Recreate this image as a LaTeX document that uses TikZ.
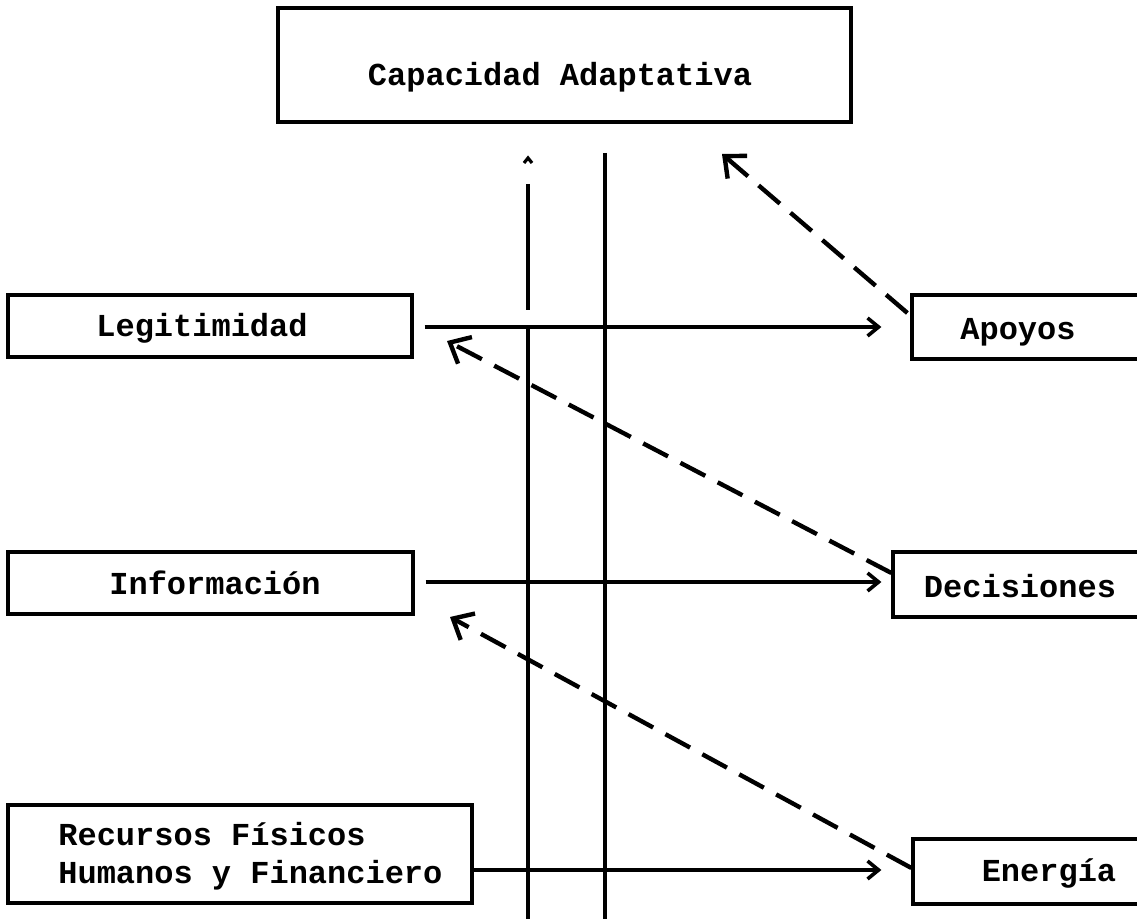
\documentclass[tikz,border=0pt]{standalone}
\usepackage{fontspec}
\setmonofont{Liberation Mono}
\usetikzlibrary{arrows.meta}
\tikzset{
  box/.style={draw, line width=1.6pt, inner sep=0pt, rectangle},
  lbl/.style={font=\ttfamily\bfseries\fontsize{16}{19}\selectfont, inner sep=0pt, align=left},
  flow/.style={line width=1.6pt, -{Straight Barb[length=5.5pt,width=9pt,line width=1.8pt]}},
  back/.style={line width=2.2pt, dash pattern=on 14pt off 7pt, -{Straight Barb[length=8.5pt,width=15pt,line width=2.2pt]}},
  axis/.style={line width=1.6pt}
}
\begin{document}
\begin{tikzpicture}[x=0.5pt,y=-0.5pt]
\useasboundingbox (0,0) rectangle (1137,919);
\clip (0,0) rectangle (1137,919);
% boxes
\node[box, minimum width=286.5pt, minimum height=57pt] (cap) at (564.5,65) {};
\node[lbl] (capT) at (560,77) {Capacidad Adaptativa};
\node[box, minimum width=202pt, minimum height=31pt] (leg) at (210,326) {};
\node[lbl] (legT) at (202,328) {Legitimidad};
\node[box, minimum width=202.5pt, minimum height=31pt] (inf) at (210.5,583) {};
\node[lbl] (infT) at (215,583) {Información};
\node[box, minimum width=232pt, minimum height=49pt] (rec) at (240,854) {};
\node[lbl, anchor=west] (recT) at (58,856) {Recursos Físicos\\Humanos y Financiero};
\node[box, minimum width=124pt, minimum height=32pt] (apo) at (1036,327) {};
\node[lbl] (apoT) at (1018,332) {Apoyos};
\node[box, minimum width=133.5pt, minimum height=32.5pt] (dec) at (1026.5,584.5) {};
\node[lbl] (decT) at (1020,586) {Decisiones};
\node[box, minimum width=123.5pt, minimum height=32.5pt] (ene) at (1036.5,871.5) {};
\node[lbl] (eneT) at (1049,874) {Energía};
% vertical lines
\coordinate (vAtop) at (528,184);
\coordinate (vAmid) at (528,310);
\coordinate (vAlow) at (528,327);
\coordinate (vAbot) at (528,919);
\coordinate (vBtop) at (605,153);
\coordinate (vBbot) at (605,919);
\coordinate (caret) at (528,158);
\draw[axis] (vAtop) -- (vAmid);
\draw[axis] (vAlow) -- (vAbot);
\draw[axis] (vBtop) -- (vBbot);
\draw[line width=1.6pt] ([shift={(-4,5)}]caret) -- (caret) -- ([shift={(4,5)}]caret);
% horizontal flows
\draw[flow] ([xshift=5.5pt]leg.east |- 0,327) -- ([xshift=-14.5pt]apo.west |- 0,327);
\draw[flow] ([xshift=5.5pt]inf.east |- 0,582) -- ([xshift=-5pt]dec.west |- 0,582);
\draw[flow] (rec.east |- 0,870) -- ([xshift=-15pt]ene.west |- 0,870);
% feedback dashed
\coordinate (capIn) at (722,154);
\coordinate (legIn) at (447,341);
\coordinate (infIn) at (450,617);
\draw[back] (apo.west |- 0,313) ++(-3,0) -- (capIn);
\draw[back] (dec.west |- 0,573) -- (legIn);
\draw[back] (ene.west |- 0,868) -- (infIn);
\end{tikzpicture}
\end{document}
